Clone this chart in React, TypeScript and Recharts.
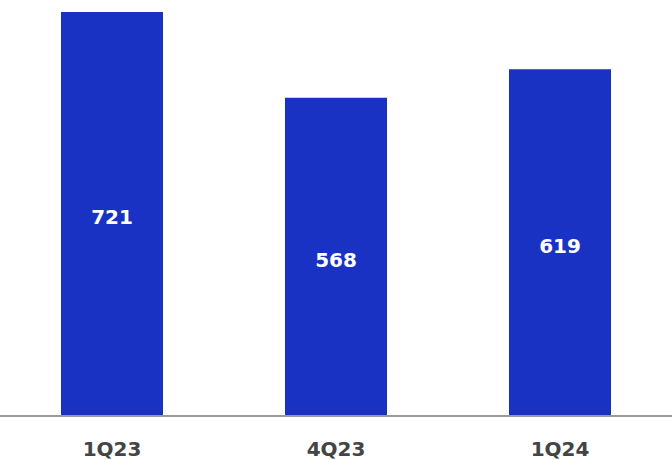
import { BarChart, Bar, XAxis, YAxis, LabelList } from 'recharts';

// Quarterly values
const quarters = ['1Q23', '4Q23', '1Q24'];
const values = [721, 568, 619];

const data = quarters.map((q, i) => ({ quarter: q, value: values[i] }));

const FONT = '"DejaVu Sans", sans-serif';

const QuarterTick = ({ x, y, payload }: any) => (
  <text
    x={x}
    y={y + 32}
    textAnchor="middle"
    fill="#444444"
    fontFamily={FONT}
    fontWeight="bold"
    fontSize={20}
  >
    {payload.value}
  </text>
);

export default function App() {
  return (
    <div style={{ width: 672, height: 460, background: '#fff' }}>
      <style>{'body{margin:0}'}</style>
      <BarChart
        width={672}
        height={460}
        data={data}
        margin={{ top: 12, right: 0, bottom: 0, left: 0 }}
        barCategoryGap={61}
      >
        <XAxis
          dataKey="quarter"
          height={44}
          tick={<QuarterTick />}
          tickLine={false}
          axisLine={{ stroke: '#9a9a9a', strokeWidth: 2 }}
          interval={0}
        />
        <YAxis hide domain={[0, 721]} allowDataOverflow />
        <Bar dataKey="value" fill="#1a32c4" barSize={102} isAnimationActive={false}>
          <LabelList
            dataKey="value"
            position="center"
            fill="#ffffff"
            fontFamily={FONT}
            fontWeight="bold"
            fontSize={20}
            dy={3}
          />
        </Bar>
      </BarChart>
    </div>
  );
}
